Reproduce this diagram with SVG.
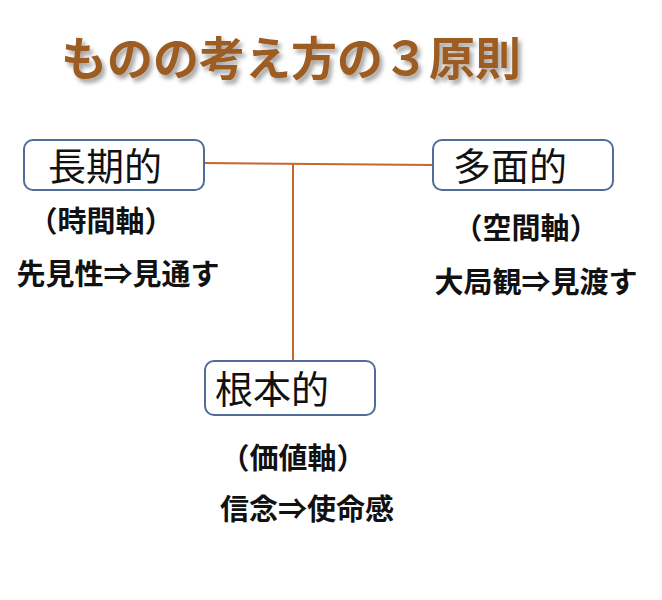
<svg xmlns="http://www.w3.org/2000/svg" width="662" height="600" viewBox="0 0 662 600">
<defs>
<style>
.box{fill:#fff;stroke:#4f6d98;stroke-width:2}
.lbl{font-family:"Noto Sans CJK JP","Noto Sans CJK SC",sans-serif;font-size:38px;fill:#111}
.sub{font-family:"Noto Sans CJK JP","Noto Sans CJK SC",sans-serif;font-size:29px;font-weight:bold;fill:#111}
.conn{stroke:#c8652e;stroke-width:2;fill:none}
</style>
<filter id="sh" x="-5%" y="-20%" width="110%" height="150%">
<feGaussianBlur in="SourceAlpha" stdDeviation="2"/>
<feOffset dx="3" dy="4" result="b"/>
<feFlood flood-color="#000" flood-opacity="0.35"/>
<feComposite in2="b" operator="in"/>
<feMerge><feMergeNode/><feMergeNode in="SourceGraphic"/></feMerge>
</filter>
</defs>
<rect width="662" height="600" fill="#fff"/>
<text id="title" x="291" y="75" text-anchor="middle" font-family="'Noto Sans CJK JP','Noto Sans CJK SC',sans-serif" font-size="46" font-weight="bold" fill="#9c5c22" filter="url(#sh)">ものの考え方の３原則</text>
<g id="connectors">
<line class="conn" x1="204" y1="163" x2="433" y2="165"/>
<line class="conn" x1="293" y1="164" x2="293" y2="361"/>
</g>
<g id="node-long">
<rect class="box" x="24" y="140" width="180" height="50" rx="9"/>
<text class="lbl" x="105" y="180" text-anchor="middle">長期的</text>
<text class="sub" x="101" y="232" text-anchor="middle">（時間軸）</text>
<text class="sub" x="118" y="285" text-anchor="middle">先見性⇒見通す</text>
</g>
<g id="node-multi">
<rect class="box" x="433" y="140" width="180" height="50" rx="9"/>
<text class="lbl" x="510" y="180" text-anchor="middle">多面的</text>
<text class="sub" x="526" y="239" text-anchor="middle">（空間軸）</text>
<text class="sub" x="536" y="293" text-anchor="middle">大局観⇒見渡す</text>
</g>
<g id="node-root">
<rect class="box" x="205" y="361" width="170" height="54" rx="9"/>
<text class="lbl" x="272" y="403" text-anchor="middle">根本的</text>
<text class="sub" x="293" y="469" text-anchor="middle">（価値軸）</text>
<text class="sub" x="307" y="520" text-anchor="middle">信念⇒使命感</text>
</g>
</svg>
